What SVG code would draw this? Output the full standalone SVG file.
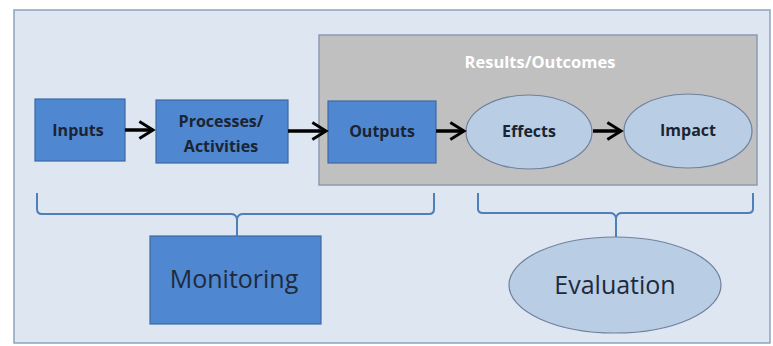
<svg xmlns="http://www.w3.org/2000/svg" width="773" height="346" viewBox="0 0 773 346">
<defs>
<style>
.bg{fill:#dde6f1;stroke:#8fa2bb;stroke-width:1.5}
.grp{fill:#c0c0c0;stroke:#8d9bb0;stroke-width:1.5}
.box{fill:#4f87d0;stroke:#3c6aa6;stroke-width:1.2}
.ell{fill:#b9cde5;stroke:#6f819b;stroke-width:1.2}
.lbl{font-family:"Open Sans","Liberation Sans",sans-serif;font-weight:bold;font-size:16px;fill:#1a2433;text-anchor:middle}
.big{font-family:"Open Sans","Liberation Sans",sans-serif;font-size:25px;fill:#1e2a3c;text-anchor:middle}
.title{font-family:"Open Sans","Liberation Sans",sans-serif;font-weight:bold;font-size:16.5px;fill:#ffffff;text-anchor:middle}
.arr{stroke:#000;stroke-width:3.5;fill:none;marker-end:url(#head)}
.brace{stroke:#4f7fb8;stroke-width:2;fill:none}
</style>
<marker id="head" viewBox="0 0 10 10" refX="8" refY="5" markerWidth="6" markerHeight="6" orient="auto" markerUnits="strokeWidth">
<path d="M1.5,1 L8,5 L1.5,9" fill="none" stroke="#000" stroke-width="1.4"/>
</marker>
</defs>
<rect class="bg" x="14" y="10" width="756" height="333"/>
<g id="results">
<rect class="grp" x="319" y="35" width="438" height="150"/>
<text class="title" x="540" y="68">Results/Outcomes</text>
</g>
<g id="inputs">
<rect class="box" x="35" y="99" width="90" height="62"/>
<text class="lbl" x="78" y="136">Inputs</text>
</g>
<g id="processes">
<rect class="box" x="156" y="100" width="132" height="63"/>
<text class="lbl" x="221" y="127">Processes/</text>
<text class="lbl" x="221" y="152">Activities</text>
</g>
<g id="outputs">
<rect class="box" x="328" y="101" width="108" height="62"/>
<text class="lbl" x="382" y="137">Outputs</text>
</g>
<g id="effects">
<ellipse class="ell" cx="529" cy="132" rx="63" ry="37"/>
<text class="lbl" x="529" y="137">Effects</text>
</g>
<g id="impact">
<ellipse class="ell" cx="688" cy="131" rx="64" ry="37"/>
<text class="lbl" x="688" y="136">Impact</text>
</g>
<g id="monitoring">
<rect class="box" x="150" y="236" width="171" height="88"/>
<text class="big" x="234" y="288">Monitoring</text>
</g>
<g id="evaluation">
<ellipse class="ell" cx="615" cy="285" rx="106" ry="48"/>
<text class="big" x="615" y="294">Evaluation</text>
</g>
<g id="connectors">
<line class="arr" x1="125" y1="130" x2="153" y2="130"/>
<line class="arr" x1="288" y1="131" x2="326" y2="131"/>
<line class="arr" x1="436" y1="131" x2="464" y2="131"/>
<line class="arr" x1="593" y1="131" x2="621" y2="131"/>
<path class="brace" d="M37,193 V209 Q37,214 42,214 H231 Q236,214 237,219 Q238,214 243,214 H429 Q434,214 434,209 V193 M237,219 V236"/>
<path class="brace" d="M478,193 V209 Q478,213 483,213 H610 Q615,213 616,218 Q617,213 622,213 H748 Q753,213 753,209 V193 M616,218 V237"/>
</g>
</svg>
